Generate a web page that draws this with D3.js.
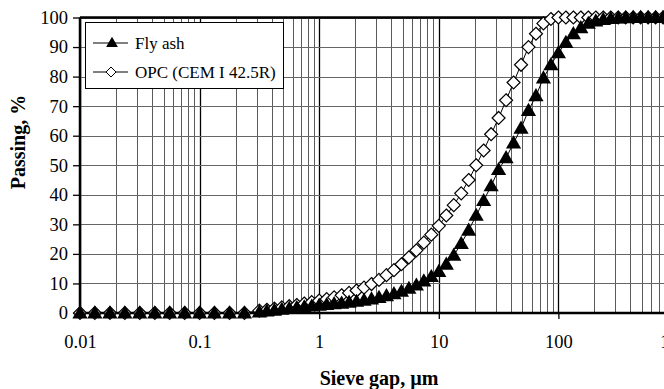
<!DOCTYPE html>
<html>
<head>
<meta charset="utf-8">
<script src="https://cdn.jsdelivr.net/npm/d3@7"></script>
<style>
  body { margin: 0; background: #fff; }
  svg { display: block; font-family: "Liberation Serif", "Times New Roman", serif; }
</style>
</head>
<body>
<div id="chart"></div>
<script>
// Sieve gaps (um) and passing (%)
var sizes = [0.01, 0.0133, 0.0178, 0.0237, 0.0316, 0.0422, 0.0562, 0.075, 0.1, 0.133, 0.178, 0.237,
  0.316, 0.365, 0.422, 0.487, 0.562, 0.649, 0.75, 0.866,
  1, 1.155, 1.334, 1.54, 1.778, 2.054, 2.371, 2.738, 3.162, 3.652, 4.217, 4.87, 5.623, 6.494, 7.499, 8.66,
  10, 11.55, 13.34, 15.4, 17.78, 20.54, 23.71, 27.38, 31.62, 36.52, 42.17, 48.7, 56.23, 64.94, 74.99, 86.6,
  100, 115.5, 133.4, 154, 177.8, 205.4, 237.1, 273.8, 316.2, 365.2, 421.7, 487, 562.3, 649.4, 749.9, 866, 1000];

var flyAsh = [0, 0, 0, 0, 0, 0, 0, 0, 0, 0, 0, 0,
  0.3, 0.6, 0.9, 1.2, 1.5, 1.8, 2.0, 2.3,
  2.6, 2.8, 3.1, 3.3, 3.6, 3.9, 4.3, 4.7, 5.2, 5.8, 6.5, 7.3, 8.3, 9.4, 10.8, 12.3,
  14, 16.5, 19.5, 23.5, 28, 33, 38, 43, 48.5, 52.5, 57.5, 62.5, 68.5, 73.5, 79.5, 84,
  88, 91.5, 94.5, 96.5, 98, 98.8, 99.3, 99.6, 99.8, 99.9, 100, 100, 100, 100, 100, 100, 100];

var opc = [0, 0, 0, 0, 0, 0, 0, 0, 0, 0, 0, 0,
  0.8, 1.1, 1.5, 1.9, 2.3, 2.7, 3.2, 3.7,
  4.2, 4.7, 5.3, 6.0, 6.8, 7.6, 8.6, 9.8, 11.2, 12.8, 14.5, 16.5, 18.8, 21.2, 23.8, 26.5,
  29.5, 33, 36.5, 40.5, 45, 50, 55, 60.5, 66, 72, 78, 84, 90, 94.5, 98, 99.5,
  100, 100, 100, 100, 100, 100, 100, 100, 100, 100, 100, 100, 100, 100, 100, 100, 100];

var xTicks = [0.01, 0.1, 1, 10, 100, 1000];
var xTickLabels = ["0.01", "0.1", "1", "10", "100", "1000"];
var yTicks = [0, 10, 20, 30, 40, 50, 60, 70, 80, 90, 100];
var seriesNames = ["Fly ash", "OPC (CEM I 42.5R)"];

var width = 664, height = 389;
var margin = {top: 17.5, left: 80, bottom: 76};

var svg = d3.select("#chart")
  .append("svg")
    .attr("width", width)
    .attr("height", height);

var x = d3.scaleLog()
  .domain([0.01, 1000])
  .range([margin.left, 678]);

var y = d3.scaleLinear()
  .domain([0, 100])
  .range([height - margin.bottom, margin.top]);

// minor gridlines 2..9 in every decade
var minor = [];
xTicks.slice(0, -1).forEach(function(d) {
  for (var m = 2; m <= 9; m++) minor.push(d * m);
});

svg.append("g")
  .selectAll("line")
  .data(minor)
  .enter().append("line")
    .attr("x1", function(d) { return Math.round(x(d)) + 0.5; })
    .attr("x2", function(d) { return Math.round(x(d)) + 0.5; })
    .attr("y1", y(0))
    .attr("y2", y(100))
    .attr("stroke", "#5a5a5a")
    .attr("stroke-width", 1);

svg.append("g")
  .selectAll("line")
  .data(xTicks)
  .enter().append("line")
    .attr("x1", function(d) { return Math.round(x(d)) + 0.5; })
    .attr("x2", function(d) { return Math.round(x(d)) + 0.5; })
    .attr("y1", y(0))
    .attr("y2", y(100))
    .attr("stroke", "#000")
    .attr("stroke-width", 1.3);

svg.append("g")
  .selectAll("line")
  .data(yTicks)
  .enter().append("line")
    .attr("x1", x(0.01))
    .attr("x2", x(1000))
    .attr("y1", function(d) { return Math.round(y(d)) + 0.5; })
    .attr("y2", function(d) { return Math.round(y(d)) + 0.5; })
    .attr("stroke", "#666")
    .attr("stroke-width", 1);

// axes
var xAxis = svg.append("g")
  .attr("transform", "translate(0," + y(0) + ")")
  .call(d3.axisBottom(x).tickValues(xTicks).tickFormat(function(d, i) { return xTickLabels[i]; }).tickSize(6).tickPadding(16));

var yAxis = svg.append("g")
  .attr("transform", "translate(" + x(0.01) + ",0)")
  .call(d3.axisLeft(y).tickValues(yTicks).tickSize(7).tickPadding(5));

[xAxis, yAxis].forEach(function(a) {
  a.select(".domain").remove();
  a.selectAll("line").attr("stroke", "#000").attr("stroke-width", 1.3);
  a.selectAll("text")
    .attr("fill", "#000")
    .style("font-family", "Liberation Serif, serif")
    .style("font-size", "18.5px");
});

// frame
svg.append("line")
  .attr("x1", x(0.01)).attr("x2", x(1000))
  .attr("y1", y(0)).attr("y2", y(0))
  .attr("stroke", "#000").attr("stroke-width", 2.5);
svg.append("line")
  .attr("x1", x(0.01)).attr("x2", x(1000))
  .attr("y1", y(100)).attr("y2", y(100))
  .attr("stroke", "#000").attr("stroke-width", 2.5);
svg.append("line")
  .attr("x1", x(0.01)).attr("x2", x(0.01))
  .attr("y1", y(0)).attr("y2", y(100))
  .attr("stroke", "#000").attr("stroke-width", 2.5);

// series
var line = d3.line()
  .x(function(d) { return x(d[0]); })
  .y(function(d) { return y(d[1]); });

var tri = d3.symbol().type(d3.symbolTriangle).size(100);
var diamond = "M0,-6.5L6.5,0L0,6.5L-6.5,0Z";

var opcData = sizes.map(function(s, i) { return [s, opc[i]]; });
var flyData = sizes.map(function(s, i) { return [s, flyAsh[i]]; });

svg.append("path")
  .datum(opcData)
  .attr("d", line)
  .attr("fill", "none")
  .attr("stroke", "#000")
  .attr("stroke-width", 1);

svg.append("g")
  .selectAll("path")
  .data(opcData)
  .enter().append("path")
    .attr("d", diamond)
    .attr("transform", function(d) { return "translate(" + x(d[0]) + "," + y(d[1]) + ")"; })
    .attr("fill", "#fff")
    .attr("stroke", "#000")
    .attr("stroke-width", 1.2);

svg.append("path")
  .datum(flyData)
  .attr("d", line)
  .attr("fill", "none")
  .attr("stroke", "#000")
  .attr("stroke-width", 1);

svg.append("g")
  .selectAll("path")
  .data(flyData)
  .enter().append("path")
    .attr("d", tri)
    .attr("transform", function(d) { return "translate(" + x(d[0]) + "," + (y(d[1]) + 1) + ")"; })
    .attr("fill", "#000");

// legend
var legend = svg.append("g");
legend.append("rect")
  .attr("x", 85.5).attr("y", 22.5)
  .attr("width", 198).attr("height", 66)
  .attr("fill", "#fff")
  .attr("stroke", "#000")
  .attr("stroke-width", 1);

var rows = [{name: seriesNames[0], y: 43}, {name: seriesNames[1], y: 72}];
rows.forEach(function(r, i) {
  legend.append("line")
    .attr("x1", 93).attr("x2", 128)
    .attr("y1", r.y).attr("y2", r.y)
    .attr("stroke", "#000").attr("stroke-width", 1);
  if (i == 0) {
    legend.append("path").attr("d", d3.symbol().type(d3.symbolTriangle).size(60))
      .attr("transform", "translate(112," + (r.y + 0.5) + ")")
      .attr("fill", "#000");
  } else {
    legend.append("path").attr("d", "M0,-5L5,0L0,5L-5,0Z")
      .attr("transform", "translate(111," + r.y + ")")
      .attr("fill", "#fff").attr("stroke", "#000");
  }
  legend.append("text")
    .attr("x", 135).attr("y", r.y + 6)
    .style("font-size", "17px")
    .text(r.name);
});

// axis titles
svg.append("text")
  .attr("x", 379).attr("y", 385)
  .attr("text-anchor", "middle")
  .style("font-size", "20px")
  .style("font-weight", "bold")
  .text("Sieve gap, \u00b5m");

svg.append("text")
  .attr("transform", "translate(25,142) rotate(-90)")
  .attr("text-anchor", "middle")
  .style("font-size", "20px")
  .style("font-weight", "bold")
  .text("Passing, %");
</script>
</body>
</html>
